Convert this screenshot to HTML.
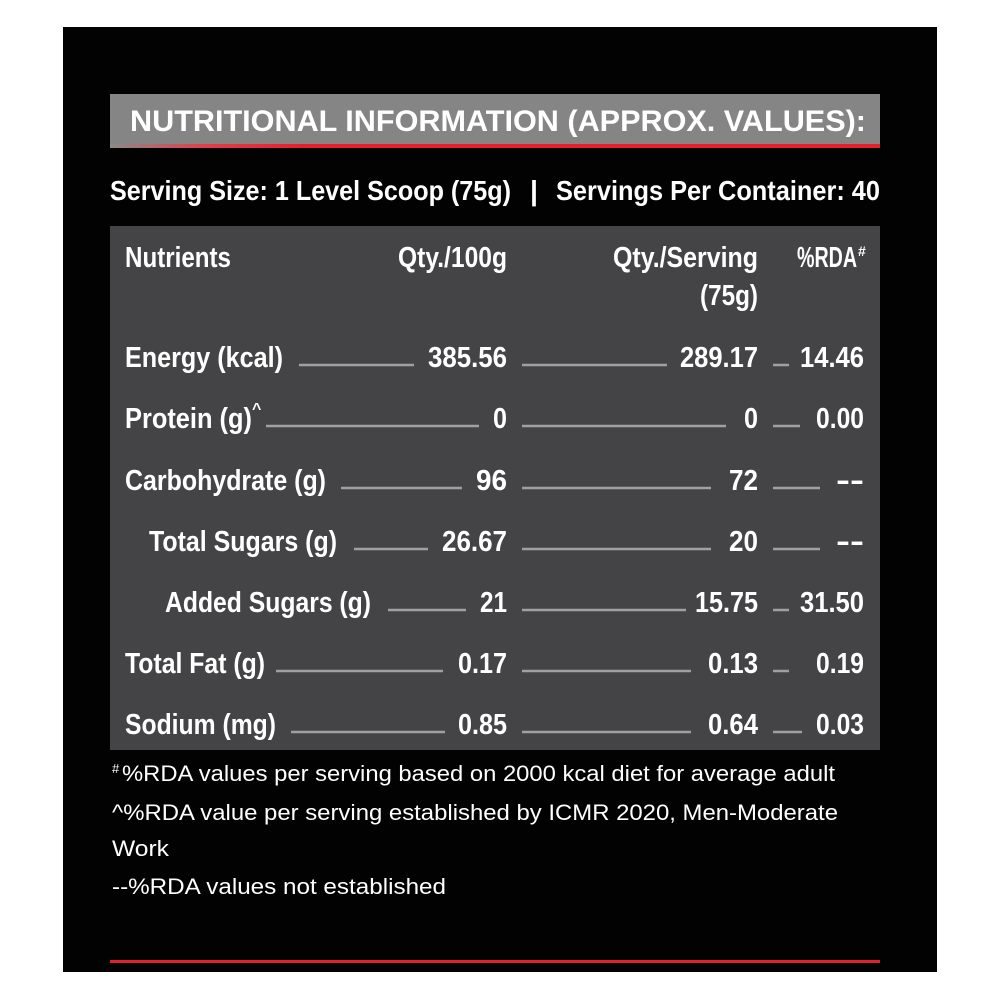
<!DOCTYPE html>
<html><head><style>html,body{margin:0;padding:0;background:#fff}</style></head>
<body>
<svg width="1000" height="1000" xmlns="http://www.w3.org/2000/svg" font-family="Liberation Sans, sans-serif">
<defs>
<linearGradient id="rg" x1="0" x2="1" y1="0" y2="0">
<stop offset="0" stop-color="#8a8a8a"/><stop offset="0.12" stop-color="#e0404a"/><stop offset="0.25" stop-color="#e5202e"/><stop offset="1" stop-color="#e5202e"/>
</linearGradient>
</defs>
<rect width="1000" height="1000" fill="#fff"/>
<rect x="63" y="27" width="874" height="945" fill="#030203"/>
<rect x="110" y="94" width="770" height="52" fill="#858585"/>
<rect x="110" y="144" width="770" height="4" fill="url(#rg)"/>
<text x="130" y="131" fill="#fff" font-size="30" font-weight="bold" textLength="736" lengthAdjust="spacingAndGlyphs">NUTRITIONAL INFORMATION (APPROX. VALUES):</text>
<g fill="#fff" font-size="28" font-weight="bold">
<text x="110" y="200" textLength="401" lengthAdjust="spacingAndGlyphs">Serving Size: 1 Level Scoop (75g)</text>
<text x="530" y="200" textLength="8" lengthAdjust="spacingAndGlyphs">|</text>
<text x="556" y="200" textLength="324" lengthAdjust="spacingAndGlyphs">Servings Per Container: 40</text>
</g>
<rect x="110" y="226" width="770" height="524" fill="#444446"/>
<g fill="#fff" font-size="29" font-weight="bold">
<text x="125" y="267" textLength="106" lengthAdjust="spacingAndGlyphs">Nutrients</text>
<text x="398" y="267" textLength="109" lengthAdjust="spacingAndGlyphs">Qty./100g</text>
<text x="613" y="267" textLength="145" lengthAdjust="spacingAndGlyphs">Qty./Serving</text>
<text x="700" y="305" textLength="58" lengthAdjust="spacingAndGlyphs">(75g)</text>
<text x="797" y="267" textLength="60" lengthAdjust="spacingAndGlyphs">%RDA</text>
<text x="858" y="256" font-size="14">#</text>

<text x="125" y="367" textLength="158" lengthAdjust="spacingAndGlyphs">Energy (kcal)</text>
<text x="428" y="367" textLength="79" lengthAdjust="spacingAndGlyphs">385.56</text>
<text x="680" y="367" textLength="78" lengthAdjust="spacingAndGlyphs">289.17</text>
<text x="800" y="367" textLength="64" lengthAdjust="spacingAndGlyphs">14.46</text>

<text x="125" y="428" textLength="127" lengthAdjust="spacingAndGlyphs">Protein (g)</text>
<text x="252" y="414" font-size="16">^</text>
<text x="493" y="428" textLength="14" lengthAdjust="spacingAndGlyphs">0</text>
<text x="744" y="428" textLength="14" lengthAdjust="spacingAndGlyphs">0</text>
<text x="816" y="428" textLength="48" lengthAdjust="spacingAndGlyphs">0.00</text>

<text x="125" y="490" textLength="201" lengthAdjust="spacingAndGlyphs">Carbohydrate (g)</text>
<text x="476" y="490" textLength="31" lengthAdjust="spacingAndGlyphs">96</text>
<text x="729" y="490" textLength="29" lengthAdjust="spacingAndGlyphs">72</text>
<text x="836" y="490" textLength="28" lengthAdjust="spacingAndGlyphs">--</text>

<text x="149" y="551" textLength="188" lengthAdjust="spacingAndGlyphs">Total Sugars (g)</text>
<text x="442" y="551" textLength="65" lengthAdjust="spacingAndGlyphs">26.67</text>
<text x="729" y="551" textLength="29" lengthAdjust="spacingAndGlyphs">20</text>
<text x="836" y="551" textLength="28" lengthAdjust="spacingAndGlyphs">--</text>

<text x="165" y="612" textLength="206" lengthAdjust="spacingAndGlyphs">Added Sugars (g)</text>
<text x="480" y="612" textLength="27" lengthAdjust="spacingAndGlyphs">21</text>
<text x="695" y="612" textLength="63" lengthAdjust="spacingAndGlyphs">15.75</text>
<text x="800" y="612" textLength="64" lengthAdjust="spacingAndGlyphs">31.50</text>

<text x="125" y="673" textLength="140" lengthAdjust="spacingAndGlyphs">Total Fat (g)</text>
<text x="458" y="673" textLength="49" lengthAdjust="spacingAndGlyphs">0.17</text>
<text x="708" y="673" textLength="50" lengthAdjust="spacingAndGlyphs">0.13</text>
<text x="816" y="673" textLength="48" lengthAdjust="spacingAndGlyphs">0.19</text>

<text x="125" y="734" textLength="151" lengthAdjust="spacingAndGlyphs">Sodium (mg)</text>
<text x="458" y="734" textLength="49" lengthAdjust="spacingAndGlyphs">0.85</text>
<text x="708" y="734" textLength="50" lengthAdjust="spacingAndGlyphs">0.64</text>
<text x="816" y="734" textLength="48" lengthAdjust="spacingAndGlyphs">0.03</text>
</g>
<g stroke="#a0a0a0" stroke-width="2.5">
<line x1="299" y1="365" x2="414" y2="365"/><line x1="522" y1="365" x2="667" y2="365"/><line x1="773" y1="365" x2="789" y2="365"/>
<line x1="266" y1="426" x2="479" y2="426"/><line x1="522" y1="426" x2="726" y2="426"/><line x1="773" y1="426" x2="800" y2="426"/>
<line x1="341" y1="488" x2="462" y2="488"/><line x1="522" y1="488" x2="711" y2="488"/><line x1="773" y1="488" x2="820" y2="488"/>
<line x1="354" y1="549" x2="428" y2="549"/><line x1="522" y1="549" x2="711" y2="549"/><line x1="773" y1="549" x2="820" y2="549"/>
<line x1="388" y1="610" x2="466" y2="610"/><line x1="522" y1="610" x2="686" y2="610"/><line x1="773" y1="610" x2="789" y2="610"/>
<line x1="276" y1="671" x2="443" y2="671"/><line x1="522" y1="671" x2="691" y2="671"/><line x1="773" y1="671" x2="789" y2="671"/>
<line x1="291" y1="732" x2="445" y2="732"/><line x1="522" y1="732" x2="691" y2="732"/><line x1="773" y1="732" x2="802" y2="732"/>
</g>
<g fill="#fff" font-size="22">
<text x="112" y="773" font-size="13">#</text>
<text x="122" y="781" textLength="713" lengthAdjust="spacingAndGlyphs">%RDA values per serving based on 2000 kcal diet for average adult</text>
<text x="112" y="820" textLength="726" lengthAdjust="spacingAndGlyphs">^%RDA value per serving established by ICMR 2020, Men-Moderate</text>
<text x="112" y="856" textLength="57" lengthAdjust="spacingAndGlyphs">Work</text>
<text x="112" y="894" textLength="334" lengthAdjust="spacingAndGlyphs">--%RDA values not established</text>
</g>
<rect x="110" y="960" width="770" height="3" fill="#e5202e"/>
</svg>
</body></html>
